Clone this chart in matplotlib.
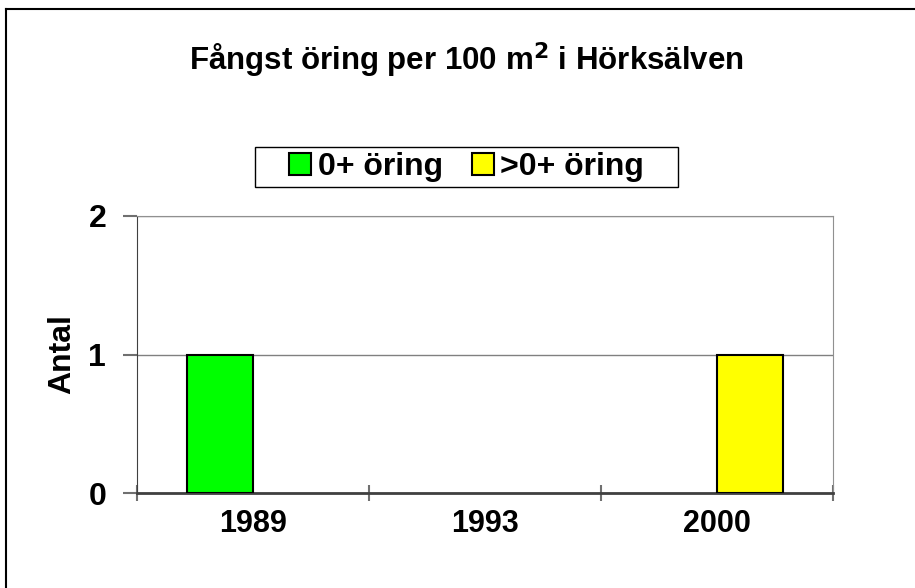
import numpy as np
import matplotlib.pyplot as plt
from matplotlib.lines import Line2D
from matplotlib.patches import Patch, Rectangle

plt.rcParams['font.family'] = ['Liberation Sans', 'DejaVu Sans']
plt.rcParams['font.weight'] = 'bold'

years = ['1989', '1993', '2000']
young = [1, 0, 0]      # 0+ öring
older = [0, 0, 1]      # >0+ öring

fig = plt.figure(figsize=(9.15, 5.88), dpi=100)
ax = fig.add_axes([136.7/915, 1 - 493.3/588, (833 - 136.7)/915, (493.3 - 215.7)/588])

x = np.arange(len(years))
w = 0.284
b1 = ax.bar(x - w/2, young, w, color='#00ff00', edgecolor='black', linewidth=1.5, zorder=3)
b2 = ax.bar(x + w/2, older, w, color='#ffff00', edgecolor='black', linewidth=1.5, zorder=3)
# empty bars should not show an outline on the axis
for bars, vals in [(b1, young), (b2, older)]:
    for r, v in zip(bars, vals):
        if v == 0:
            r.set_visible(False)

ax.set_xlim(-0.5, 2.5)
ax.set_ylim(0, 2)
ax.set_yticks([0, 1, 2])
ax.set_yticklabels(['0', '1', '2'], fontsize=23, fontweight='bold')
ax.yaxis.grid(True, color='#808080', linewidth=1)
ax.set_axisbelow(True)

# category labels in the middle, ticks on boundaries
ax.set_xticks(x)
ax.set_xticklabels(years, fontsize=22, fontweight='bold')
ax.tick_params(axis='x', which='major', length=0, pad=11)
ax.set_xticks([-0.5, 0.5, 1.5, 2.5], minor=True)
ax.tick_params(axis='x', which='minor', length=11, direction='inout', color='#707070', width=1.5)
ax.tick_params(axis='y', length=10, color='#707070', width=1.5, pad=12)

for s in ['top', 'right']:
    ax.spines[s].set_color('#909090')
ax.spines['left'].set_color('#404040')
ax.spines['bottom'].set_color('#404040')
ax.spines['bottom'].set_linewidth(2)

ax.set_ylabel('Antal', fontsize=23, fontweight='bold', labelpad=8)

fig.text(0.51, 1 - 60/588, 'Fångst öring per 100 m$^{\\mathbf{2}}$ i Hörksälven',
         ha='center', va='center', fontsize=22.5, fontweight='bold')

handles = [Patch(facecolor='#00ff00', edgecolor='black', linewidth=1.5, label='0+ öring'),
           Patch(facecolor='#ffff00', edgecolor='black', linewidth=1.5, label='>0+ öring')]
leg = ax.legend(handles=handles, loc='center', bbox_to_anchor=(0.51, 1 - 167/588),
                bbox_transform=fig.transFigure,
                ncol=2, fontsize=23, frameon=False,
                handlelength=0.7, handleheight=0.7, handletextpad=0.2, columnspacing=0.9,
                borderpad=0.15, borderaxespad=0)

# legend box: wide side padding, tight top/bottom
fig.canvas.draw()
bb = leg.get_window_extent()
padx, pady = 29, 0
fig.add_artist(Rectangle(((bb.x0 - padx)/fig.bbox.width, (bb.y0 - pady)/fig.bbox.height),
                         (bb.width + 2*padx)/fig.bbox.width, (bb.height + 2*pady)/fig.bbox.height,
                         transform=fig.transFigure, fill=False, edgecolor='black', linewidth=1))

# frame around the chart area (only left and top visible)
fig.add_artist(Line2D([6/915, 6/915], [0, 1 - 9/588], color='black', linewidth=1.5))
fig.add_artist(Line2D([6/915, 1], [1 - 9/588, 1 - 9/588], color='black', linewidth=1.5))

fig.savefig('out.png', dpi=100, facecolor='white')
